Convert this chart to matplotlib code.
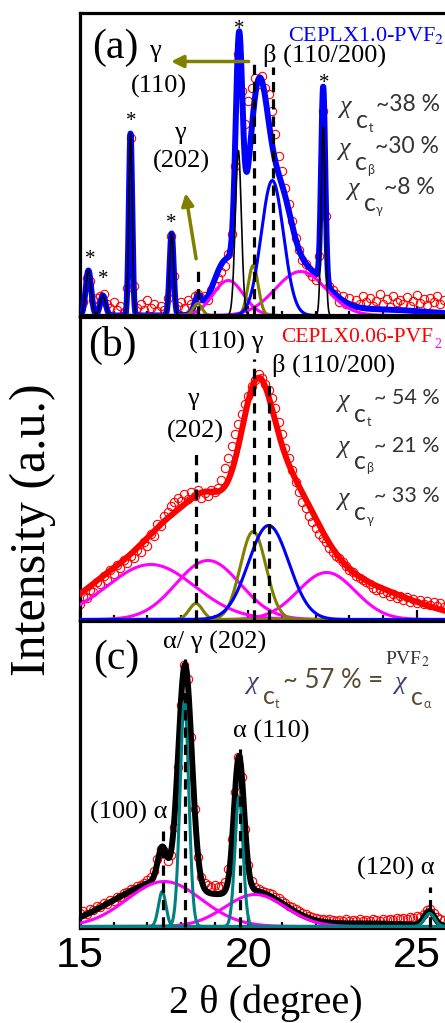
import numpy as np
import matplotlib
matplotlib.use('Agg')
import matplotlib.pyplot as plt
from matplotlib.transforms import offset_copy

plt.rcParams['font.family'] = ['Liberation Serif', 'DejaVu Serif']
plt.rcParams['mathtext.fontset'] = 'stix'

# measured 2-theta grid (degree) shared by the three patterns
two_theta = np.arange(150, 259) / 10.0

# ---------------- (a) CEPLX1.0-PVF2 ----------------
obs_a = [12, 14, 38, 35, 16, 18, 20, 22, 12, 8,
         14, 6, 10, 4, 28, 178, 30, 8, 12, 6,
         16, 8, 12, 5, 10, 6, 18, 80, 40, 10,
         14, 8, 16, 12, 20, 22, 18, 20, 16, 26,
         30, 38, 44, 50, 62, 82, 150, 262, 225, 192,
         215, 228, 238, 232, 240, 228, 222, 205, 182, 160,
         145, 128, 112, 95, 78, 66, 56, 52, 44, 40,
         36, 60, 205, 100, 30, 26, 22, 14, 20, 12,
         18, 10, 16, 12, 20, 14, 18, 10, 15, 22,
         12, 17, 9, 20, 14, 16, 12, 19, 10, 15,
         21, 13, 17, 11, 18, 14, 20, 12, 16]
# peaks as (centre, height, width)
fit_a = [(15.25, 45, .08), (15.68, 20, .08), (16.50, 182, .05), (17.72, 82, .06),
         (18.50, 16, .10), (19.35, 55, .38), (19.72, 215, .10), (20.30, 215, .30),
         (20.95, 85, .32), (21.60, 45, .70), (22.22, 195, .06), (23.8, 6, 1.5)]
black_a = [(15.25, 45, .08), (15.68, 20, .08), (16.50, 182, .05), (17.72, 82, .06),
           (19.70, 165, .09), (22.22, 189, .06)]
olive_a = [(18.49, 12, .13), (20.14, 50, .15)]
blue_a = [(20.71, 135, .33)]
magenta_a = [(19.40, 35, .45), (21.55, 44, .75)]
star_x_a = [15.30, 15.68, 16.51, 17.70, 19.72, 22.24]
star_h_a = [62, 42, 200, 99, 292, 239]
dash_a = [(18.49, 50), (20.17, 254), (20.72, 249)]

# ---------------- (b) CEPLX0.06-PVF2 ----------------
obs_b = [16, 24, 22, 30, 28, 38, 36, 44, 40, 50,
         46, 55, 52, 60, 57, 64, 62, 70, 68, 78,
         74, 86, 84, 96, 94, 104, 108, 114, 118, 122,
         119, 126, 121, 128, 124, 130, 122, 127, 124, 130,
         128, 132, 140, 152, 162, 174, 186, 196, 206, 216,
         224, 234, 240, 246, 242, 236, 230, 222, 212, 198,
         186, 172, 162, 150, 138, 128, 118, 112, 104, 98,
         92, 86, 82, 78, 72, 68, 64, 62, 58, 54,
         50, 48, 44, 42, 40, 38, 36, 32, 30, 31,
         27, 28, 24, 26, 22, 24, 20, 23, 18, 21,
         17, 20, 16, 19, 15, 18, 14, 17, 13]
fit_b = [(18.3, 110, 1.6), (15.5, 15, 0.8), (18.7, 12, 0.4), (20.25, 100, 0.45),
         (21.0, 105, 1.0), (23.0, 35, 1.7)]
magenta_b = [(17.1, 55, 1.3), (18.8, 59, 0.95), (22.32, 47, 0.85)]
olive_b = [(18.44, 16, 0.2), (20.14, 88, 0.38)]
blue_b = [(20.6, 94, 0.6)]
dash_b = [(18.44, 166), (20.17, 261), (20.62, 236)]

# ---------------- (c) PVF2 ----------------
obs_c = [14, 16, 13, 18, 17, 21, 20, 24, 23, 27,
         26, 30, 30, 34, 35, 38, 38, 41, 42, 44,
         47, 50, 56, 68, 78, 76, 66, 72, 100, 160,
         222, 262, 248, 190, 118, 70, 50, 44, 42, 40,
         42, 40, 41, 45, 58, 88, 135, 170, 150, 98,
         62, 46, 40, 38, 36, 35, 34, 33, 30, 29,
         26, 24, 21, 20, 18, 16, 14, 13, 11, 10,
         9, 8, 8, 7, 8, 7, 6, 7, 6, 8,
         6, 7, 6, 8, 6, 7, 6, 8, 7, 6,
         8, 7, 8, 7, 9, 8, 9, 8, 10, 9,
         11, 10, 13, 17, 18, 14, 10, 8, 7]
fit_c = [(17.44, 33, .13), (18.12, 220, .20), (19.72, 135, .15), (17.55, 45, 1.1),
         (20.2, 33, .9), (25.37, 14, .15), (23.5, 3, 1.5), (15.8, 10, .8)]
teal_c = [(17.44, 35, .11), (18.10, 225, .13), (19.72, 130, .12), (25.38, 13, .15)]
magenta_c = [(17.5, 45, 1.1), (20.2, 32, 0.9)]
dash_c = [(17.45, 96), (18.12, 268), (19.74, 178), (25.39, 40)]

BLUE, RED, MAG, OLIVE, TEAL = '#0000ff', '#ff0000', '#ff00ff', '#808000', '#008080'
TXT = '#333333'
LAB = 19

xs = np.linspace(15, 26.1, 3000)


def gauss(peaks):
    return [h * np.exp(-0.5 * ((xs - c) / w) ** 2) for c, h, w in peaks]


def style(ax, top):
    ax.set_xlim(15, 26.1)
    ax.set_ylim(-1.5, top)
    ax.set_yticks([])
    ax.set_xticks([15, 20, 25])
    ax.set_xticks(range(16, 26), minor=True)
    ax.tick_params(axis='x', which='major', direction='in', length=8, width=1.6,
                   labelsize=31, pad=5.5)
    ax.tick_params(axis='x', which='minor', direction='in', length=4, width=1.6)
    for s in ax.spines.values():
        s.set_linewidth(2.3)
    ax.spines['right'].set_visible(False)
    for lab in ax.get_xticklabels():
        lab.set_family('Liberation Sans')


def draw(ax, obs, fit, fitcol, comps):
    ax.plot(two_theta, obs, 'o', mfc='none', mec=RED, ms=6, mew=0.8, zorder=2)
    ax.plot(xs, np.sum(gauss(fit), axis=0), color=fitcol, lw=4.3, zorder=3)
    for peaks, col, lw in comps:
        for y in gauss(peaks):
            ax.plot(xs, y, color=col, lw=lw, zorder=4)


def dashes(ax, lines):
    for x, top in lines:
        ax.plot([x, x], [0, top], color='black', lw=2.3, ls=(0, (3.2, 2.2)), zorder=5)


def chi(ax, x, y, sub, val, color=TXT, subcol=None, fs=16.5):
    t = ax.transData
    kw = dict(va='center', ha='left', zorder=6)
    ax.text(x, y, 'χ', transform=t, fontsize=19, fontstyle='italic', color=color, **kw)
    ax.text(x, y, 'c', transform=offset_copy(t, x=17, y=-14, units='dots'),
            fontsize=18, family='Lato', color=subcol or color, **kw)
    ax.text(x, y, sub, transform=offset_copy(t, x=29, y=-21, units='dots'),
            fontsize=9, family='Lato', color=subcol or color, **kw)
    if val:
        ax.text(x, y, val, transform=offset_copy(t, x=37, y=2, units='dots'),
                fontsize=fs, family='Lato', color=subcol or color, **kw)


fig = plt.figure(figsize=(4.45, 10.23), dpi=100)
ax_a = fig.add_axes([80 / 445, 1 - 317 / 1023, 373.9 / 445, 304 / 1023])
ax_b = fig.add_axes([80 / 445, 1 - 621 / 1023, 373.9 / 445, 304 / 1023])
ax_c = fig.add_axes([80 / 445, 1 - 928 / 1023, 373.9 / 445, 307 / 1023])

# (a)
draw(ax_a, obs_a, fit_a, BLUE, [(magenta_a, MAG, 2.2), (olive_a, OLIVE, 2.2),
                                (blue_a, BLUE, 2.2), (black_a, 'black', 1.2)])
dashes(ax_a, dash_a)
style(ax_a, 302.5)
for x, h in zip(star_x_a, star_h_a):
    ax_a.text(x, h - 11, '*', fontsize=15, ha='center', va='baseline')
ax_a.text(16.04, 268, '(a)', fontsize=30, ha='center', va='center')
ax_a.text(17.23, 264, 'γ', fontsize=LAB, ha='center', va='center')
ax_a.text(17.35, 229, '(110)', fontsize=LAB, ha='center', va='center')
ax_a.text(17.97, 182, 'γ', fontsize=LAB, ha='center', va='center')
ax_a.text(18.0, 154, '(202)', fontsize=LAB, ha='center', va='center')
ax_a.text(20.44, 260, 'β (110/200)', fontsize=LAB, ha='left', va='center')
ax_a.text(25.8, 275, 'CEPLX1.0-PVF$_2$', fontsize=16, color=BLUE, ha='right', va='baseline')
ax_a.annotate('', xy=(17.62, 254), xytext=(20.09, 254),
              arrowprops=dict(arrowstyle='-|>', color=OLIVE, lw=2.5, mutation_scale=18))
ax_a.annotate('', xy=(18.12, 125), xytext=(18.46, 54),
              arrowprops=dict(arrowstyle='-|>', color=OLIVE, lw=2.5, mutation_scale=18))
chi(ax_a, 22.70, 209, 't', '~38 %')
chi(ax_a, 22.66, 167, 'β', '~30 %')
chi(ax_a, 22.93, 126, 'γ', '~8 %')
ax_a.set_xticklabels([])

# (b)
draw(ax_b, obs_b, fit_b, RED, [(magenta_b, MAG, 2.2), (olive_b, OLIVE, 2.2),
                               (blue_b, BLUE, 2.2)])
dashes(ax_b, dash_b)
style(ax_b, 302.5)
ax_b.text(15.97, 274, '(b)', fontsize=30, ha='center', va='center')
ax_b.text(20.44, 277, '(110) γ', fontsize=LAB, ha='right', va='center')
ax_b.text(20.70, 254, 'β (110/200)', fontsize=LAB, ha='left', va='center')
ax_b.text(18.36, 221, 'γ', fontsize=LAB, ha='center', va='center')
ax_b.text(18.42, 188, '(202)', fontsize=LAB, ha='center', va='center')
ax_b.text(25.48, 278, 'CEPLX0.06-PVF', fontsize=15.5, color=RED, ha='right', va='baseline')
ax_b.text(25.52, 271, '2', fontsize=10, color=MAG, ha='left', va='baseline')
chi(ax_b, 22.64, 219, 't', '~ 54 %', fs=15.5)
chi(ax_b, 22.64, 172, 'β', '~ 21 %', fs=15.5)
chi(ax_b, 22.64, 121, 'γ', '~ 33 %', fs=15.5)
ax_b.set_xticklabels([])

# (c)
draw(ax_c, obs_c, fit_c, 'black', [(magenta_c, MAG, 2.2), (teal_c, TEAL, 2.2)])
dashes(ax_c, dash_c)
style(ax_c, 305.5)
ax_c.text(16.07, 268, '(c)', fontsize=30, ha='center', va='center')
ax_c.text(19.01, 284, 'α/ γ (202)', fontsize=LAB, ha='center', va='center')
ax_c.text(24.06, 262, 'PVF$_2$', fontsize=14, color=TXT, ha='left', va='baseline')
chi(ax_c, 19.93, 244, 't', '~ 57 % =', color='#3c3c78', subcol='#5a4a30', fs=18.5)
chi(ax_c, 24.33, 243, 'α', None, color='#3c3c78', subcol='#5a4a30')
ax_c.text(20.69, 195, 'α (110)', fontsize=LAB, ha='center', va='center')
ax_c.text(16.44, 114, '(100) α', fontsize=LAB, ha='center', va='center')
ax_c.text(24.36, 58, '(120) α', fontsize=LAB, ha='center', va='center')

fig.text(266 / 445, 1 - 1003 / 1023, '2 θ (degree)', fontsize=29, ha='center', va='center')
fig.text(33 / 445, 1 - 530 / 1023, 'Intensity (a.u.)', fontsize=36, rotation=90,
         ha='center', va='center')

fig.savefig('out.png', dpi=100)
